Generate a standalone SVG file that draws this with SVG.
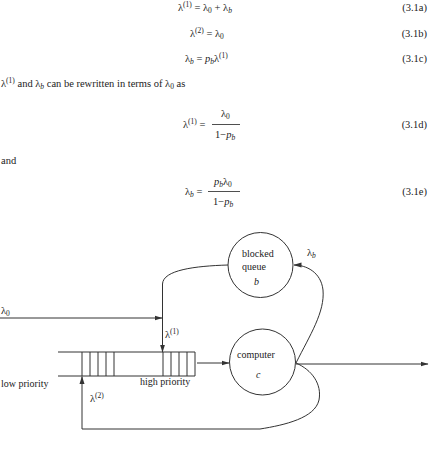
<svg xmlns="http://www.w3.org/2000/svg" width="442" height="449" viewBox="0 0 442 449">
<style>
text{font-family:"Liberation Serif","Times New Roman",serif;fill:#222;}
.eq{font-size:10.5px;}
.lab{font-size:10px;}
.s{font-size:7.5px;}
.i{font-style:italic;}
.ln{fill:none;stroke:#333;stroke-width:1;}
</style>
<defs>
<marker id="ah" markerUnits="userSpaceOnUse" markerWidth="8" markerHeight="6" refX="7.5" refY="3" orient="auto">
<path d="M0,0.5 L8,3 L0,5.5 Z" fill="#333"/>
</marker>
</defs>
<g id="equations">
<text class="eq" x="178" y="11">λ<tspan class="s" dy="-4">(1)</tspan><tspan dy="4"> = λ</tspan><tspan class="s" dy="2">0</tspan><tspan dy="-2"> + λ</tspan><tspan class="s i" dy="2">b</tspan></text>
<text class="eq" x="427" y="11" text-anchor="end">(3.1a)</text>
<text class="eq" x="190" y="37">λ<tspan class="s" dy="-4">(2)</tspan><tspan dy="4"> = λ</tspan><tspan class="s" dy="2">0</tspan></text>
<text class="eq" x="427" y="37" text-anchor="end">(3.1b)</text>
<text class="eq" x="185" y="62">λ<tspan class="s i" dy="2">b</tspan><tspan dy="-2"> = </tspan><tspan class="i">p</tspan><tspan class="s i" dy="2">b</tspan><tspan dy="-2">λ</tspan><tspan class="s" dy="-4">(1)</tspan></text>
<text class="eq" x="427" y="62" text-anchor="end">(3.1c)</text>
<text class="eq" x="1" y="87">λ<tspan class="s" dy="-4">(1)</tspan><tspan dy="4"> and λ</tspan><tspan class="s i" dy="2">b</tspan><tspan dy="-2"> can be rewritten in terms of λ</tspan><tspan class="s" dy="2">0</tspan><tspan dy="-2"> as</tspan></text>
<text class="eq" x="183" y="128">λ<tspan class="s" dy="-4">(1)</tspan><tspan dy="4"> =</tspan></text>
<text class="eq" x="221" y="117">λ<tspan class="s" dy="2">0</tspan></text>
<line x1="212" y1="124.5" x2="240" y2="124.5" stroke="#222" stroke-width="0.8"/>
<text class="eq" x="215" y="138">1−<tspan class="i">p</tspan><tspan class="s i" dy="2">b</tspan></text>
<text class="eq" x="427" y="128" text-anchor="end">(3.1d)</text>
<text class="eq" x="1" y="164">and</text>
<text class="eq" x="185" y="195">λ<tspan class="s i" dy="2">b</tspan><tspan dy="-2"> =</tspan></text>
<text class="eq" x="214" y="185"><tspan class="i">p</tspan><tspan class="s i" dy="2">b</tspan><tspan dy="-2">λ</tspan><tspan class="s" dy="2">0</tspan></text>
<line x1="208" y1="191.5" x2="240" y2="191.5" stroke="#222" stroke-width="0.8"/>
<text class="eq" x="213" y="205">1−<tspan class="i">p</tspan><tspan class="s i" dy="2">b</tspan></text>
<text class="eq" x="427" y="195" text-anchor="end">(3.1e)</text>
</g>
<g id="connectors">
<line class="ln" x1="0" y1="318" x2="162" y2="318" marker-end="url(#ah)"/>
<path class="ln" d="M228,265 C195,266 163,270 162.5,284 L162.5,352" marker-end="url(#ah)"/>
<line class="ln" x1="197" y1="363" x2="229" y2="363" marker-end="url(#ah)"/>
<line class="ln" x1="296" y1="364" x2="428" y2="364" marker-end="url(#ah)"/>
<path class="ln" d="M296,363 C310,335 325,312 323,290 C321,272 306,265 294,265" marker-end="url(#ah)"/>
<path class="ln" d="M296,363 C312,370 322,384 319,400 C315,418 285,425 260,429 L82,429 L82,376.5" marker-end="url(#ah)"/>
</g>
<g id="queue">
<path class="ln" d="M58,352 L195,352 L195,376 L58,376"/>
<path class="ln" d="M82,352V376 M90,352V376 M98,352V376 M106,352V376 M114,352V376 M163,352V376 M171,352V376 M179,352V376 M187,352V376"/>
<text class="lab" x="1" y="387">low priority</text>
<text class="lab" x="140" y="385">high priority</text>
</g>
<g id="blocked">
<circle class="ln" cx="260.5" cy="265" r="32.5"/>
<text class="lab" x="242" y="257">blocked</text>
<text class="lab" x="242" y="270">queue</text>
<text class="lab i" x="254" y="285">b</text>
</g>
<g id="computer">
<circle class="ln" cx="262.5" cy="362" r="33"/>
<text class="lab" x="237" y="358">computer</text>
<text class="lab i" x="256" y="378">c</text>
</g>
<g id="labels">
<text class="eq" x="1" y="314">λ<tspan class="s" dy="2">0</tspan></text>
<text class="eq" x="165" y="338">λ<tspan class="s" dy="-4">(1)</tspan></text>
<text class="eq" x="90" y="402">λ<tspan class="s" dy="-4">(2)</tspan></text>
<text class="eq" x="307" y="256">λ<tspan class="s i" dy="2">b</tspan></text>
</g>
</svg>
